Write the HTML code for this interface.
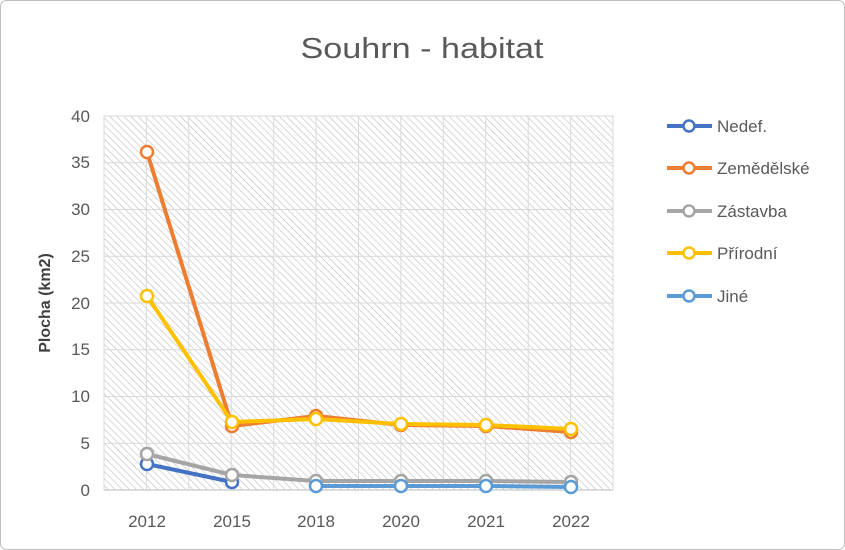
<!DOCTYPE html><html><head><meta charset="utf-8"><style>body{margin:0;background:#fff}svg{display:block}text{font-family:"Liberation Sans",sans-serif}</style></head><body>
<svg width="845" height="550" viewBox="0 0 845 550">
<defs><pattern id="h" width="5" height="5" patternUnits="userSpaceOnUse" patternTransform="rotate(-45)"><line x1="0" y1="0" x2="0" y2="5" stroke="#bdbdbd" stroke-width="1.2"/></pattern></defs>
<rect x="0.5" y="0.5" width="844" height="549" rx="6" fill="#fff" stroke="#bfbfbf"/>
<text x="422" y="58" font-size="29" fill="#595959" text-anchor="middle" textLength="243" lengthAdjust="spacingAndGlyphs">Souhrn - habitat</text>
<rect x="104" y="116" width="509" height="374" fill="url(#h)"/>
<g stroke="#d9d9d9" stroke-width="1">
<path d="M104 116H613M104 162.75H613M104 209.5H613M104 256.25H613M104 303H613M104 349.75H613M104 396.5H613M104 443.25H613"/>
<path d="M104 116V490M146.4 116V490M188.8 116V490M231.2 116V490M273.7 116V490M316.1 116V490M358.5 116V490M400.9 116V490M443.3 116V490M485.7 116V490M528.2 116V490M570.6 116V490M613 116V490"/>
</g>
<line x1="104" y1="490" x2="613" y2="490" stroke="#d0d0d0" stroke-width="1.5"/>
<g font-size="17" fill="#595959" text-anchor="end">
<text x="90" y="496">0</text><text x="90" y="449">5</text><text x="90" y="402">10</text><text x="90" y="355">15</text><text x="90" y="309">20</text><text x="90" y="262">25</text><text x="90" y="215">30</text><text x="90" y="168">35</text><text x="90" y="122">40</text></g>
<g font-size="17" fill="#595959" text-anchor="middle">
<text x="147" y="527">2012</text><text x="232" y="527">2015</text><text x="316" y="527">2018</text><text x="401" y="527">2020</text><text x="486" y="527">2021</text><text x="571" y="527">2022</text></g>
<text transform="translate(50 303) rotate(-90)" font-size="16" font-weight="bold" fill="#404040" text-anchor="middle">Plocha (km2)</text>
<g fill="none" stroke-width="4" stroke-linejoin="round">
<polyline stroke="#4472c4" points="147,464 232,482"/>
<polyline stroke="#ed7d31" points="147,152 232,426 316,416 401,425 486,426 571,432"/>
<polyline stroke="#a5a5a5" points="147,454 232,475 316,481 401,481 486,481 571,482"/>
<polyline stroke="#ffc000" points="147,296 232,422 316,419 401,424 486,425 571,429"/>
<polyline stroke="#5b9bd5" points="316,486 401,486 486,486 571,487"/>
</g>
<g fill="#fff" stroke-width="2.5">
<g stroke="#4472c4"><circle cx="147" cy="464" r="6"/><circle cx="232" cy="482" r="6"/></g>
<g stroke="#ed7d31"><circle cx="147" cy="152" r="6"/><circle cx="232" cy="426" r="6"/><circle cx="316" cy="416" r="6"/><circle cx="401" cy="425" r="6"/><circle cx="486" cy="426" r="6"/><circle cx="571" cy="432" r="6"/></g>
<g stroke="#a5a5a5"><circle cx="147" cy="454" r="6"/><circle cx="232" cy="475" r="6"/><circle cx="316" cy="481" r="6"/><circle cx="401" cy="481" r="6"/><circle cx="486" cy="481" r="6"/><circle cx="571" cy="482" r="6"/></g>
<g stroke="#ffc000"><circle cx="147" cy="296" r="6"/><circle cx="232" cy="422" r="6"/><circle cx="316" cy="419" r="6"/><circle cx="401" cy="424" r="6"/><circle cx="486" cy="425" r="6"/><circle cx="571" cy="429" r="6"/></g>
<g stroke="#5b9bd5"><circle cx="316" cy="486" r="6"/><circle cx="401" cy="486" r="6"/><circle cx="486" cy="486" r="6"/><circle cx="571" cy="487" r="6"/></g>
</g>
<g stroke-width="4"><line x1="667" y1="126" x2="712" y2="126" stroke="#4472c4"/><line x1="667" y1="168" x2="712" y2="168" stroke="#ed7d31"/><line x1="667" y1="211" x2="712" y2="211" stroke="#a5a5a5"/><line x1="667" y1="253" x2="712" y2="253" stroke="#ffc000"/><line x1="667" y1="296" x2="712" y2="296" stroke="#5b9bd5"/></g>
<g fill="#fff" stroke-width="2.5"><circle cx="689" cy="126" r="5.5" stroke="#4472c4"/><circle cx="689" cy="168" r="5.5" stroke="#ed7d31"/><circle cx="689" cy="211" r="5.5" stroke="#a5a5a5"/><circle cx="689" cy="253" r="5.5" stroke="#ffc000"/><circle cx="689" cy="296" r="5.5" stroke="#5b9bd5"/></g>
<g font-size="17" fill="#595959"><text x="717" y="132">Nedef.</text><text x="717" y="174">Zemědělské</text><text x="717" y="217">Zástavba</text><text x="717" y="259">Přírodní</text><text x="717" y="302">Jiné</text></g>
</svg></body></html>
